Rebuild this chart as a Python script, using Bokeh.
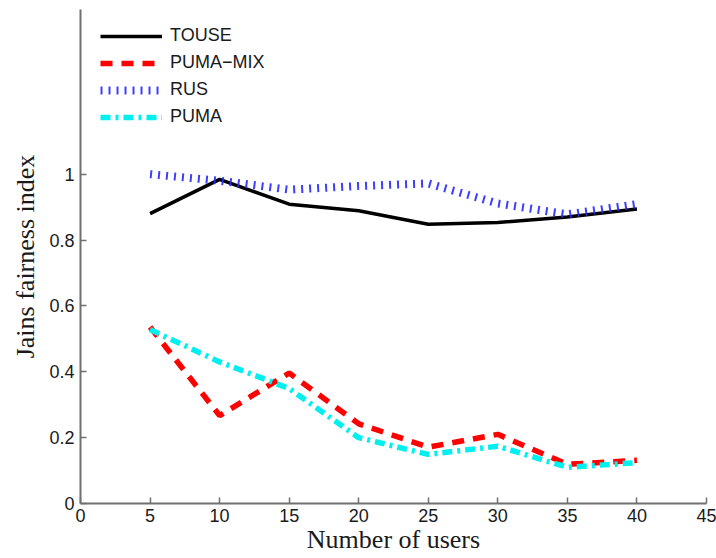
from bokeh.plotting import figure
from bokeh.models import Range1d, FixedTicker, CustomJSTickFormatter, Legend, LegendItem
from bokeh.embed import file_html
from bokeh.resources import INLINE

users = [5, 10, 15, 20, 25, 30, 35, 40]
touse = [0.880, 0.984, 0.909, 0.889, 0.848, 0.853, 0.870, 0.894]
puma_mix = [0.536, 0.267, 0.396, 0.242, 0.171, 0.210, 0.119, 0.131]
rus = [1.000, 0.980, 0.953, 0.964, 0.972, 0.911, 0.878, 0.909]
puma = [0.528, 0.430, 0.349, 0.200, 0.149, 0.174, 0.110, 0.124]

x_ticks = [0, 5, 10, 15, 20, 25, 30, 35, 40, 45]
y_ticks = [0, 0.2, 0.4, 0.6, 0.8, 1.0]

p = figure(width=716, height=558, output_backend="svg", toolbar_location=None,
           x_range=Range1d(0, 45), y_range=Range1d(0, 1.5),
           min_border_left=80, min_border_right=10, min_border_top=9, min_border_bottom=55)
p.outline_line_color = None
p.xgrid.grid_line_color = None
p.ygrid.grid_line_color = None

r1 = p.line(users, touse, line_color="black", line_width=3.5)
r2 = p.line(users, puma_mix, line_color="#ff0000", line_width=5.5, line_dash="12 9")
r3 = p.line(users, rus, line_color="#2828ff", line_alpha=0.9, line_width=8, line_dash="2 6")
r4 = p.line(users, puma, line_color="#00f0f0", line_width=5.5, line_dash="10 5 3 5")

legend = Legend(items=[
    LegendItem(label="TOUSE", renderers=[r1]),
    LegendItem(label="PUMA\u2212MIX", renderers=[r2]),
    LegendItem(label="RUS", renderers=[r3]),
    LegendItem(label="PUMA", renderers=[r4]),
], location=(20, 376), margin=0, padding=0, spacing=6,
   glyph_width=62, glyph_height=20, label_height=20, label_standoff=8,
   label_text_font="Liberation Sans", label_text_font_size="18px",
   label_text_color="#1a1a1a",
   border_line_alpha=0, background_fill_alpha=0)
p.add_layout(legend)

for ax in (p.xaxis[0], p.yaxis[0]):
    ax.axis_line_color = "#707070"
    ax.axis_line_width = 2
    ax.major_tick_line_color = "#707070"
    ax.major_tick_line_width = 1.5
    ax.major_tick_in = 6
    ax.major_tick_out = 0
    ax.minor_tick_line_color = None
    ax.major_label_text_font = "Liberation Sans"
    ax.major_label_text_font_size = "18px"
    ax.major_label_text_color = "#1a1a1a"
    ax.axis_label_text_font = "Liberation Serif"
    ax.axis_label_text_font_size = "26px"
    ax.axis_label_text_font_style = "normal"
    ax.axis_label_text_color = "#1a1a1a"

p.xaxis.ticker = FixedTicker(ticks=x_ticks)
p.yaxis.ticker = FixedTicker(ticks=y_ticks)
p.yaxis.formatter = CustomJSTickFormatter(code="return tick.toFixed(1).replace(/\\.0$/, '');")
p.xaxis.axis_label = "Number of users"
p.yaxis.axis_label = "Jains fairness index"
p.xaxis.axis_label_standoff = 0
p.yaxis.axis_label_standoff = 6
p.xaxis.major_label_standoff = 5
p.yaxis.major_label_standoff = 6

open("out.html", "w").write(file_html(p, INLINE))
